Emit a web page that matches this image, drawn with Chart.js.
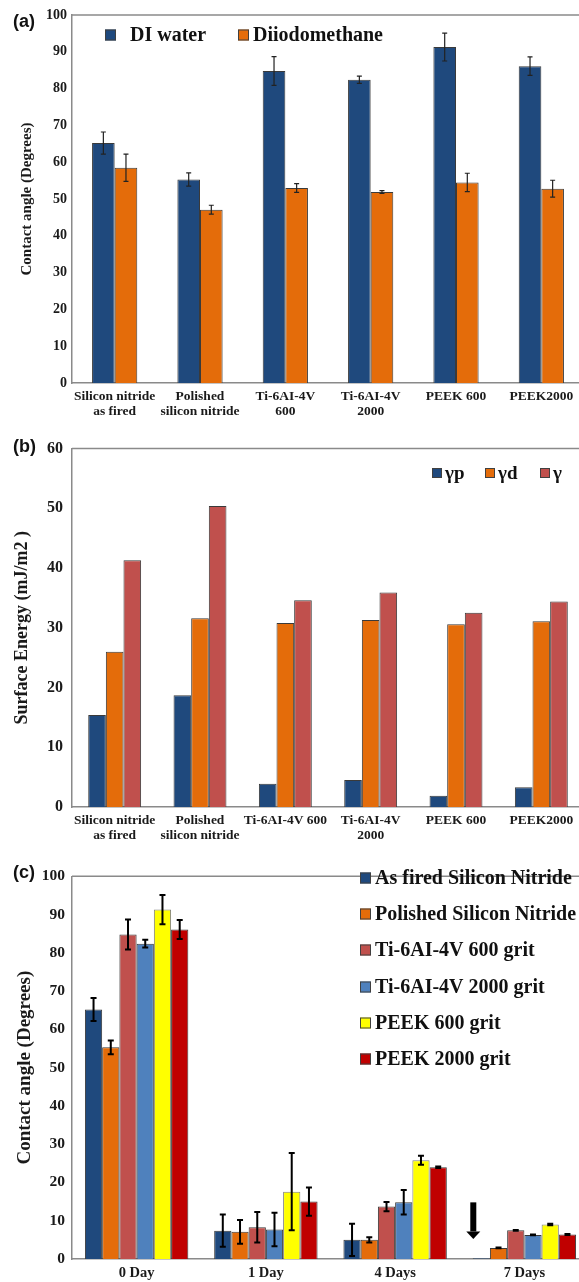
<!DOCTYPE html>
<html>
<head>
<meta charset="utf-8">
<title>Contact angle and surface energy</title>
<script src="https://cdn.jsdelivr.net/npm/chart.js@4.4.0/dist/chart.umd.min.js"></script>
<style>
  html, body { margin: 0; padding: 0; background: #fff; }
  body { width: 579px; height: 1282px; overflow: hidden; position: relative; }
  canvas { position: absolute; left: 0; }
  #chartA { top: 0; }
  #chartB { top: 430px; }
  #chartC { top: 860px; }
</style>
</head>
<body>
<canvas id="chartA" width="590" height="430"></canvas>
<canvas id="chartB" width="590" height="430"></canvas>
<canvas id="chartC" width="590" height="422"></canvas>
<script>
// (a) contact angle per surface
const surfacesA = [['Silicon nitride', 'as fired'], ['Polished', 'silicon nitride'], ['Ti-6AI-4V', '600'], ['Ti-6AI-4V', '2000'], 'PEEK 600', 'PEEK2000'];
const diWater = [65.2, 55.3, 84.8, 82.4, 91.3, 86.1];
const diWaterErr = [3.0, 1.8, 3.9, 1.0, 3.8, 2.5];
const diiodo = [58.5, 47.1, 53.0, 51.9, 54.5, 52.8];
const diiodoErr = [3.7, 1.2, 1.2, 0.4, 2.5, 2.3];

// (b) surface energy
const surfacesB = [['Silicon nitride', 'as fired'], ['Polished', 'silicon nitride'], 'Ti-6AI-4V 600', ['Ti-6AI-4V', '2000'], 'PEEK 600', 'PEEK2000'];
const gammaP = [15.4, 18.7, 3.9, 4.5, 1.9, 3.3];
const gammaD = [26.0, 31.6, 30.8, 31.3, 30.6, 31.1];
const gammaTotal = [41.3, 50.4, 34.6, 35.9, 32.5, 34.4];

// (c) contact angle over time
const days = ['0 Day', '1 Day', '4 Days', '7 Days'];
const asFired = [65.2, 7.4, 5.0, 0.2];
const asFiredErr = [3.0, 4.2, 4.2, 0];
const polished = [55.3, 7.1, 5.0, 2.9];
const polishedErr = [1.8, 3.1, 0.7, 0.1];
const ti600 = [84.8, 8.3, 13.7, 7.5];
const ti600Err = [3.9, 4.0, 1.2, 0.1];
const ti2000 = [82.4, 7.7, 14.8, 6.3];
const ti2000Err = [1.0, 4.4, 3.2, 0.1];
const peek600 = [91.3, 17.6, 25.8, 9.0];
const peek600Err = [3.8, 10.1, 1.2, 0.2];
const peek2000 = [86.1, 15.0, 24.0, 6.4];
const peek2000Err = [2.5, 3.7, 0.2, 0.1];
// arrow over the 7 Days as-fired bar: top, head start, tip (degrees)
const arrowSpan = [14.8, 7.2, 5.2];

const SERIF = '"Liberation Serif", "Times New Roman", serif';
const SANS = '"Liberation Sans", Arial, sans-serif';
const BLUE = '#1f497d', ORANGE = '#e46c0a', RED = '#c0504d';

// line along the top of the plot area
const topFrame = {
  id: 'topFrame',
  afterDraw(chart) {
    const { ctx, chartArea } = chart;
    ctx.save();
    ctx.strokeStyle = '#8a8a8a';
    ctx.lineWidth = 1.5;
    ctx.beginPath();
    ctx.moveTo(chartArea.left, chartArea.top);
    ctx.lineTo(chartArea.right, chartArea.top);
    ctx.stroke();
    ctx.restore();
  }
};

function makeErrorBars(color, width, cap) {
  return {
    id: 'errorBars',
    afterDatasetsDraw(chart) {
      const { ctx } = chart;
      const y = chart.scales.y;
      ctx.save();
      ctx.strokeStyle = color;
      ctx.lineWidth = width;
      chart.data.datasets.forEach((ds, i) => {
        if (!ds.errors) return;
        chart.getDatasetMeta(i).data.forEach((bar, j) => {
          const e = ds.errors[j];
          if (!e) return;
          const top = y.getPixelForValue(ds.data[j] + e);
          const bot = y.getPixelForValue(Math.max(0, ds.data[j] - e));
          ctx.beginPath();
          ctx.moveTo(bar.x, top); ctx.lineTo(bar.x, bot);
          ctx.moveTo(bar.x - cap, top); ctx.lineTo(bar.x + cap, top);
          ctx.moveTo(bar.x - cap, bot); ctx.lineTo(bar.x + cap, bot);
          ctx.stroke();
        });
      });
      ctx.restore();
    }
  };
}

// legend squares + labels at given spots
function makeLegend(items, font, box) {
  return {
    id: 'boxLegend',
    afterDraw(chart) {
      const { ctx } = chart;
      ctx.save();
      ctx.font = font;
      ctx.textBaseline = 'middle';
      ctx.textAlign = 'left';
      chart.data.datasets.forEach((ds, i) => {
        const it = items[i];
        ctx.fillStyle = ds.backgroundColor;
        ctx.fillRect(it[0], it[2] - box / 2, box, box);
        ctx.strokeStyle = '#404040';
        ctx.lineWidth = 1;
        ctx.strokeRect(it[0] + 0.5, it[2] - box / 2 + 0.5, box - 1, box - 1);
        ctx.fillStyle = '#111';
        ctx.fillText(ds.label, it[1], it[2] + 1);
      });
      ctx.restore();
    }
  };
}

function makeTag(text, x, y) {
  return {
    id: 'panelTag',
    afterDraw(chart) {
      const { ctx } = chart;
      ctx.save();
      ctx.font = 'bold 18px ' + SANS;
      ctx.fillStyle = '#111';
      ctx.textBaseline = 'middle';
      ctx.fillText(text, x, y);
      ctx.restore();
    }
  };
}

const arrowMark = {
  id: 'arrowMark',
  afterDatasetsDraw(chart) {
    const { ctx } = chart;
    const y = chart.scales.y;
    const x = chart.getDatasetMeta(0).data[3].x - 8;
    const top = y.getPixelForValue(arrowSpan[0]);
    const head = y.getPixelForValue(arrowSpan[1]);
    const tip = y.getPixelForValue(arrowSpan[2]);
    ctx.save();
    ctx.fillStyle = '#000';
    ctx.fillRect(x - 3, top, 6, head - top);
    ctx.beginPath();
    ctx.moveTo(x - 7, head);
    ctx.lineTo(x + 7, head);
    ctx.lineTo(x, tip);
    ctx.closePath();
    ctx.fill();
    ctx.restore();
  }
};

function bar(label, data, color, errors, border) {
  return {
    label: label,
    data: data,
    errors: errors,
    backgroundColor: color,
    borderColor: border || '#3a3a3a',
    borderWidth: 1,
    borderSkipped: 'bottom'
  };
}

function axes(yMax, yTitle, tickSize, titleSize, titlePad, tickPad, xHeight, xSize) {
  return {
    x: {
      grid: { display: false, drawTicks: false },
      border: { display: true, color: '#8a8a8a', width: 1.5 },
      ticks: {
        color: '#1a1a1a', padding: 6, maxRotation: 0, autoSkip: false,
        font: { family: SERIF, size: xSize, weight: 'bold', lineHeight: 1.12 }
      },
      afterFit(scale) { scale.height = xHeight; }
    },
    y: {
      min: 0, max: yMax,
      grid: { display: false, drawTicks: false },
      border: { display: true, color: '#8a8a8a', width: 1.5 },
      ticks: {
        stepSize: 10, color: '#1a1a1a', padding: tickPad,
        font: { family: SERIF, size: tickSize, weight: 'bold' }
      },
      title: {
        display: true, text: yTitle, color: '#1a1a1a',
        padding: { top: titlePad, bottom: 0 },
        font: { family: SERIF, size: titleSize, weight: 'bold', lineHeight: 1.2 }
      },
      afterFit(scale) { scale.width = 72; }
    }
  };
}

const common = {
  responsive: false,
  animation: false,
  devicePixelRatio: 1,
  plugins: { legend: { display: false }, tooltip: { enabled: false } }
};

new Chart(document.getElementById('chartA'), {
  type: 'bar',
  data: {
    labels: surfacesA,
    datasets: [
      bar('DI water', diWater, BLUE, diWaterErr),
      bar('Diiodomethane', diiodo, ORANGE, diiodoErr)
    ]
  },
  options: Object.assign({}, common, {
    layout: { padding: { top: 15, right: 6, left: 0, bottom: 0 } },
    datasets: { bar: { categoryPercentage: 0.53, barPercentage: 1 } },
    scales: axes(100, 'Contact angle (Degrees)', 14, 15, 18, 5, 47, 13.5)
  }),
  plugins: [topFrame, makeErrorBars('#222', 1.2, 2.5),
    makeLegend([[105, 130, 35], [238, 253, 35]], 'bold 20px ' + SERIF, 11),
    makeTag('(a)', 13, 22)]
});

new Chart(document.getElementById('chartB'), {
  type: 'bar',
  data: {
    labels: surfacesB,
    datasets: [
      bar('γp', gammaP, BLUE),
      bar('γd', gammaD, ORANGE),
      bar('γ', gammaTotal, RED)
    ]
  },
  options: Object.assign({}, common, {
    layout: { padding: { top: 17, right: 6, left: 0, bottom: 0 } },
    datasets: { bar: { categoryPercentage: 0.62, barPercentage: 1 } },
    scales: axes(60, 'Surface Energy (mJ/m2 )', 16, 18, 12, 9, 53, 13.5)
  }),
  plugins: [topFrame,
    makeLegend([[432, 445, 43], [485, 498, 43], [540, 553, 43]], 'bold 19px ' + SERIF, 10),
    makeTag('(b)', 13, 17)]
});

new Chart(document.getElementById('chartC'), {
  type: 'bar',
  data: {
    labels: days,
    datasets: [
      bar('As fired Silicon Nitride', asFired, BLUE, asFiredErr),
      bar('Polished Silicon Nitride', polished, ORANGE, polishedErr),
      bar('Ti-6AI-4V 600 grit', ti600, RED, ti600Err),
      bar('Ti-6AI-4V 2000 grit', ti2000, '#4f81bd', ti2000Err),
      bar('PEEK 600 grit', peek600, '#ffff00', peek600Err, '#7f7f7f'),
      bar('PEEK 2000 grit', peek2000, '#c00000', peek2000Err)
    ]
  },
  options: Object.assign({}, common, {
    layout: { padding: { top: 14, right: 1, left: 0, bottom: 0 } },
    datasets: { bar: { categoryPercentage: 0.8, barPercentage: 1 } },
    scales: axes(100, 'Contact angle (Degrees)', 15.5, 19, 14, 7, 23, 14.5)
  }),
  plugins: [topFrame, makeErrorBars('#000', 2, 3), arrowMark,
    makeLegend([[360, 375, 18], [360, 375, 54], [360, 375, 90], [360, 375, 127], [360, 375, 163], [360, 375, 199]], 'bold 20px ' + SERIF, 11),
    makeTag('(c)', 13, 13)]
});
</script>
</body>
</html>
